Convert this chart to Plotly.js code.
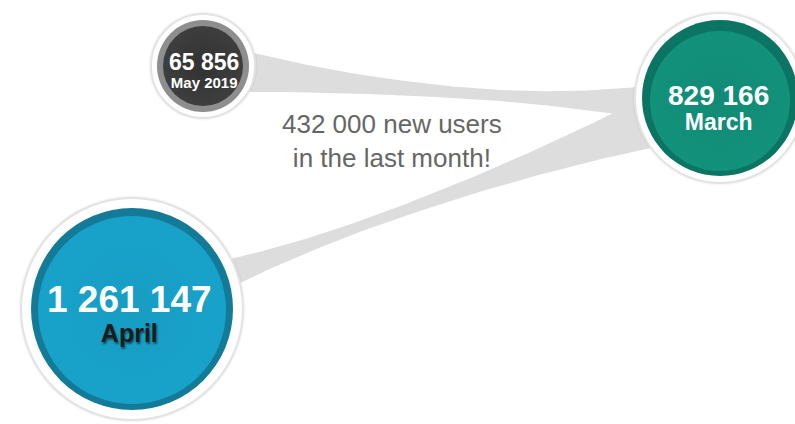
<!DOCTYPE html>
<html>
<head>
<meta charset="utf-8">
<script src="https://cdn.plot.ly/plotly-3.0.1.min.js"></script>
<style>
  html, body { margin: 0; padding: 0; background: #ffffff; }
  #chart { width: 795px; height: 424px; }
</style>
</head>
<body>
<div id="chart"></div>
<script>
// ---------------- data ----------------
const NODE_NAMES = ['May 2019', 'March', 'April'];
const NODE_VALUES = [65856, 829166, 1261147];
const LINK_SOURCE = [0, 2];
const LINK_TARGET = [1, 1];
const CALLOUT_SUFFIX = ['new users', 'in the last month!'];

// ---------------- layout / style config ----------------
const W = 795, H = 424;
const FONT = '"Liberation Sans", Arial, sans-serif';
const BAND_COLOR = '#dddddd';
const NODE_GEOM = [
  {cx: 203, cy: 66, halo: 52, ring: 46, fill: 40, innerDy: 0,
   ringColor: '#8e8e8e', fillColor: '#3e3e3e', edgeColor: '#323232',
   valueSize: 23, nameSize: 15, baseSize: 13.5, labelDx: 0.5, labelDy: 4,
   nameColor: '#ffffff', nameShadow: ''},
  {cx: 720, cy: 98, halo: 85, ring: 78, fill: 70, innerDy: 3,
   ringColor: '#0c7463', fillColor: '#12917b', edgeColor: '#118b76',
   valueSize: 28, nameSize: 23, baseSize: 19, labelDx: -2, labelDy: 9,
   nameColor: '#ffffff', nameShadow: ''},
  {cx: 132, cy: 309, halo: 111, ring: 101, fill: 94, innerDy: 1,
   ringColor: '#137b98', fillColor: '#18a2ca', edgeColor: '#179dc4',
   valueSize: 37, nameSize: 25, baseSize: 22.8, labelDx: -3, labelDy: 4,
   nameColor: '#1c1c1c', nameShadow: 'text-shadow:1px 2px 2px rgba(0,0,0,0.5);'}
];
const LINK_GEOM = [
  {srcDy: 0, tgtDy: 6, u1: 0.6, u2: 0.95, tm: 0.55, wm: 5.5, wa: 20.5, wb: 23.4},
  {srcDy: 0, tgtDy: -2, u1: 1 / 3, u2: 2 / 3, tm: 0.4, wm: 5.5, wa: 26, wb: 33}
];
const CALLOUT_POS = {x: 391.5, y: 141, size: 26, color: '#666666'};

function fmt(v) {
  return String(v).replace(/\B(?=(\d{3})+(?!\d))/g, ' ');
}

// ---------------- build traces ----------------
const traces = [];

// bands
LINK_SOURCE.forEach(function (s, i) {
  const t = LINK_TARGET[i];
  const g = LINK_GEOM[i];
  const S = NODE_GEOM[s], T = NODE_GEOM[t];
  const sx = S.cx, sy = S.cy + g.srcDy;
  const dx = T.cx - sx, dy = (T.cy + g.tgtDy) - sy;
  const top = {x: [], y: []}, bot = {x: [], y: []};
  const N = 120;
  for (let k = 0; k <= N; k++) {
    const u = k / N;
    const b1 = 3 * (1 - u) * (1 - u) * u, b2 = 3 * (1 - u) * u * u, b3 = u * u * u;
    const x = sx + dx * u;
    const y = sy + dy * (b1 * g.u1 + b2 * g.u2 + b3);
    let hw;
    if (u < g.tm) hw = g.wm + g.wa * Math.pow(1 - u / g.tm, 2);
    else hw = g.wm + g.wb * Math.pow((u - g.tm) / (1 - g.tm), 2);
    top.x.push(x); top.y.push(y - hw);
    bot.x.push(x); bot.y.push(y + hw);
  }
  traces.push({
    type: 'scatter', mode: 'lines',
    x: top.x.concat(bot.x.slice().reverse()),
    y: top.y.concat(bot.y.slice().reverse()),
    fill: 'toself', fillcolor: BAND_COLOR,
    line: {width: 0, color: BAND_COLOR},
    hoverinfo: 'skip', showlegend: false
  });
});

// circles: shadow, halo, ring, fill
const cx = NODE_GEOM.map(g => g.cx);
const cy = NODE_GEOM.map(g => g.cy);
traces.push({
  type: 'scatter', mode: 'markers', x: cx, y: cy,
  marker: {size: NODE_GEOM.map(g => 2 * g.halo + 5), color: 'rgba(0,0,0,0.03)', opacity: 1, line: {width: 0}},
  hoverinfo: 'skip', showlegend: false
});
traces.push({
  type: 'scatter', mode: 'markers', x: cx, y: cy,
  marker: {size: NODE_GEOM.map(g => 2 * g.halo), color: '#ffffff', opacity: 1,
           line: {width: 2, color: '#e3e3e3'},
           gradient: {type: 'radial', color: '#f2f2f2'}},
  hoverinfo: 'skip', showlegend: false
});
traces.push({
  type: 'scatter', mode: 'markers', x: cx, y: cy,
  marker: {size: NODE_GEOM.map(g => 2 * g.ring), color: NODE_GEOM.map(g => g.ringColor), opacity: 1, line: {width: 0}},
  hoverinfo: 'skip', showlegend: false
});
traces.push({
  type: 'scatter', mode: 'markers', x: cx, y: NODE_GEOM.map(g => g.cy + g.innerDy),
  marker: {size: NODE_GEOM.map(g => 2 * g.fill), color: NODE_GEOM.map(g => g.fillColor), opacity: 1,
           line: {width: 0},
           gradient: {type: 'radial', color: NODE_GEOM.map(g => g.edgeColor)}},
  hoverinfo: 'skip', showlegend: false
});

// ---------------- annotations ----------------
const annotations = [];
NODE_GEOM.forEach(function (g, i) {
  annotations.push({
    x: g.cx + g.labelDx, y: g.cy + g.labelDy, xref: 'x', yref: 'y',
    text: '<span style="font-size:' + g.valueSize + 'px">' + fmt(NODE_VALUES[i]) + '</span><br>' +
          '<span style="font-size:' + g.nameSize + 'px;fill:' + g.nameColor + ';' + g.nameShadow + '">' +
          NODE_NAMES[i] + '</span>',
    showarrow: false,
    xanchor: 'center', yanchor: 'middle', align: 'center',
    font: {family: FONT, size: g.baseSize, color: '#ffffff', weight: 700}
  });
});
const growth = Math.round((NODE_VALUES[2] - NODE_VALUES[1]) / 1000) * 1000;
annotations.push({
  x: CALLOUT_POS.x, y: CALLOUT_POS.y, xref: 'x', yref: 'y',
  text: fmt(growth) + ' ' + CALLOUT_SUFFIX[0] + '<br>' + CALLOUT_SUFFIX[1], showarrow: false,
  xanchor: 'center', yanchor: 'middle', align: 'center',
  font: {family: FONT, size: CALLOUT_POS.size, color: CALLOUT_POS.color}
});

const layout = {
  width: W, height: H,
  margin: {l: 0, r: 0, t: 0, b: 0, pad: 0},
  paper_bgcolor: '#ffffff', plot_bgcolor: '#ffffff',
  xaxis: {range: [0, W], visible: false, fixedrange: true},
  yaxis: {range: [H, 0], visible: false, fixedrange: true},
  showlegend: false,
  annotations: annotations
};

Plotly.newPlot('chart', traces, layout, {displayModeBar: false, staticPlot: true});
</script>
</body>
</html>
